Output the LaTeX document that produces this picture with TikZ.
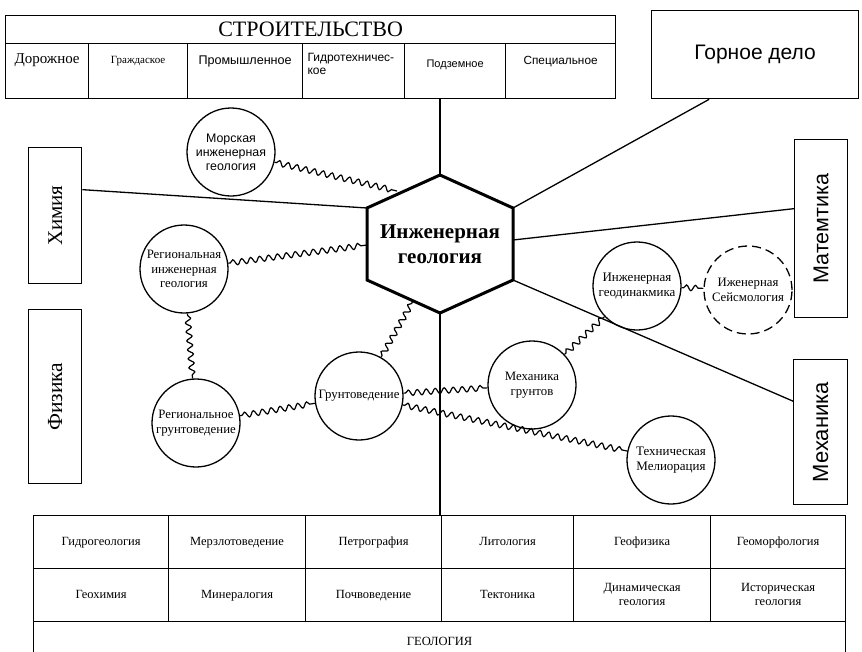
\documentclass[tikz,border=0pt]{standalone}
\usepackage{fontspec}
\setmainfont{Liberation Serif}
\setsansfont{Liberation Sans}
\usetikzlibrary{decorations.pathmorphing}

\begin{document}
\begin{tikzpicture}[x=1pt, y=-1pt,
  box/.style={draw, line width=1.3pt, inner sep=0pt, anchor=north west},
  cell/.style={draw, line width=1.2pt, inner sep=0pt, anchor=north west, minimum height=55pt},
  gcell/.style={draw, line width=1.2pt, inner sep=0pt, anchor=north west, align=center, text height=9pt, text depth=3pt, font=\fontsize{12.5}{14}\selectfont},
  circ/.style={circle, draw, line width=1.3pt, minimum size=88pt, inner sep=0pt, align=center, font=\fontsize{12.8}{14.5}\selectfont},
  wave/.style={decorate, line width=1.2pt, decoration={snake, amplitude=2.8pt, segment length=9pt, pre length=2pt, post length=2pt}},
  link/.style={line width=1.3pt}]
\useasboundingbox (0,0) rectangle (862,651);

% СТРОИТЕЛЬСТВО
\node[box, minimum width=610pt, minimum height=28pt, font=\fontsize{22}{24}\selectfont] (stroi) at (5,15) {СТРОИТЕЛЬСТВО};
\node[cell, minimum width=83pt, label={[anchor=north, yshift=-7pt, font=\fontsize{15}{16}\selectfont]north:Дорожное}] (dor) at (5,43) {};
\node[cell, minimum width=99pt, label={[anchor=north, yshift=-10pt, font=\fontsize{11}{12}\selectfont]north:Граждаское}] (grazh) at (88,43) {};
\node[cell, minimum width=115pt, label={[anchor=north, yshift=-9pt, font=\sffamily\fontsize{12.6}{14}\selectfont]north:Промышленное}] (prom) at (187,43) {};
\node[cell, minimum width=102pt, label={[anchor=north west, xshift=2pt, yshift=-7pt, align=left, font=\sffamily\fontsize{12}{13}\selectfont]north west:{Гидротехничес-\\кое}}] (gidr) at (302,43) {};
\node[cell, minimum width=101pt, label={[anchor=north, yshift=-13pt, font=\sffamily\fontsize{11}{12}\selectfont]north:Подземное}] (podz) at (404,43) {};
\node[cell, minimum width=110pt, label={[anchor=north, yshift=-10pt, font=\sffamily\fontsize{11.8}{13}\selectfont]north:Специальное}] (spec) at (505,43) {};

% boxes around
\node[box, minimum width=207pt, minimum height=88pt, font=\sffamily\fontsize{21}{23}\selectfont] (gorn) at (651,10) {Горное дело};
\node[box, minimum width=53pt, minimum height=136pt, font=\fontsize{21}{23}\selectfont] (him) at (28,147) {\rotatebox{90}{Химия}};
\node[box, minimum width=53pt, minimum height=174pt, font=\fontsize{21.5}{23}\selectfont] (fiz) at (28,309) {\rotatebox{90}{Физика}};
\node[box, minimum width=53pt, minimum height=178pt, font=\sffamily\fontsize{21.5}{23}\selectfont] (mat) at (794,139) {\rotatebox{90}{Матемтика}};
\node[box, minimum width=54pt, minimum height=145pt, font=\sffamily\fontsize{22}{24}\selectfont] (meh) at (793,359) {\rotatebox{90}{Механика}};

% ГЕОЛОГИЯ
\node[gcell, minimum width=135pt, minimum height=53pt] (gidrog) at (33,515) {Гидрогеология};
\node[gcell, minimum width=137pt, minimum height=53pt] (merzl) at (168,515) {Мерзлотоведение};
\node[gcell, minimum width=136pt, minimum height=53pt] (petr) at (305,515) {Петрография};
\node[gcell, minimum width=132pt, minimum height=53pt] (lit) at (441,515) {Литология};
\node[gcell, minimum width=137pt, minimum height=53pt] (geof) at (573,515) {Геофизика};
\node[gcell, minimum width=135pt, minimum height=53pt] (geom) at (710,515) {Геоморфология};
\node[gcell, minimum width=135pt, minimum height=53pt] (geoh) at (33,568) {Геохимия};
\node[gcell, minimum width=137pt, minimum height=53pt] (miner) at (168,568) {Минералогия};
\node[gcell, minimum width=136pt, minimum height=53pt] (pochv) at (305,568) {Почвоведение};
\node[gcell, minimum width=132pt, minimum height=53pt] (tekt) at (441,568) {Тектоника};
\node[gcell, minimum width=137pt, minimum height=53pt, text height=23pt] (din) at (573,568) {Динамическая\\геология};
\node[gcell, minimum width=135pt, minimum height=53pt, text height=23pt] (ist) at (710,568) {Историческая\\геология};
\node[gcell, minimum width=812pt, minimum height=60pt, text depth=21pt] (geol) at (33,621) {ГЕОЛОГИЯ};

% hexagon
\coordinate (ht) at (440,175);
\coordinate (hur) at (513,208);
\coordinate (hlr) at (513,280);
\coordinate (hb) at (440,313);
\coordinate (hll) at (367,280);
\coordinate (hul) at (367,208);
\coordinate (hr) at (513,240);
\coordinate (hm1) at (397,191);
\coordinate (hm2) at (367,245);
\coordinate (hm3) at (413,301);
\draw[line width=3pt] (ht) -- (hur) -- (hlr) -- (hb) -- (hll) -- (hul) -- cycle;
\node[font=\bfseries\fontsize{21}{25}\selectfont, align=center] (ig) at (440,244) {Инженерная\\геология};

% circles
\node[circ, font=\sffamily\fontsize{12.4}{14}\selectfont] (mor) at (231,152) {Морская\\инженерная\\геология};
\node[circ] (reginzh) at (184,269) {Региональная\\инженерная\\геология};
\node[circ] (reggr) at (196,423) {Региональное\\грунтоведение};
\node[circ] (grunt) at (359,396) {Грунтоведение};
\node[circ] (mehgr) at (532,385) {Механика\\грунтов};
\node[circ, font=\fontsize{13}{15}\selectfont] (tech) at (671,460) {Техническая\\Мелиорация};
\node[circ, font=\fontsize{13}{15}\selectfont] (geodin) at (637,286) {Инженерная\\геодинакмика};
\node[circ, dash pattern=on 9pt off 5pt] (seism) at (748,290) {Иженерная\\Сейсмология};

% straight links
\draw[link] (ht) -- (ht |- podz.south);
\draw[link] (hb) -- (hb |- lit.north);
\draw[link] ([yshift=26pt]him.east) -- (hul);
\draw[link] ([xshift=-46pt]gorn.south) -- (hur);
\draw[link] (hr) -- ([yshift=20pt]mat.west);
\draw[link] (hlr) -- ([yshift=31pt]meh.west);

% wavy links
\draw[wave] (mor) -- (hm1);
\draw[wave] (reginzh) -- (hm2);
\draw[wave] (grunt) -- (hm3);
\draw[wave] (reginzh) -- (reggr);
\draw[wave] (reggr) -- (grunt);
\draw[wave] (grunt) -- (mehgr);
\draw[wave] (grunt) -- (tech);
\draw[wave] (mehgr) -- (geodin);
\draw[wave] (geodin) -- (seism);

\end{tikzpicture}
\end{document}
